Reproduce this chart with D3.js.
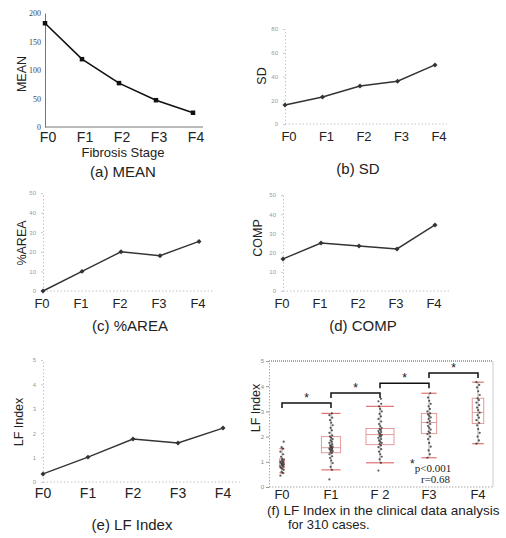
<!DOCTYPE html>
<html><head><meta charset="utf-8">
<script src="https://cdn.jsdelivr.net/npm/d3@7"></script>
<style>html,body{margin:0;padding:0;background:#fff;overflow:hidden}</style>
</head><body>
<script>
// ---------- data ----------
const stages = ["F0","F1","F2","F3","F4"];
const meanValues = [182,119,77,47,25];
const sdValues = [16,22.7,32,36,49.7];
const areaValues = [0,10,20,18,25.3];
const compValues = [16.7,25,23.4,21.9,34.4];
const lfValues = [0.33,1.02,1.76,1.6,2.21];

const ticksMean = [0,50,100,150,200];
const ticksSD = [0,20,40,60,80];
const ticksArea = [0,10,20,30,40,50];
const ticksComp = [0,10,20,30,40,50];
const ticksLF = [0,1,2,3,4,5];

// panel (f) clinical box plot
const fStages = ["F0","F1","F 2","F3","F4"];
const fCounts = [20,75,110,60,45];
const fWhiskLow = [0.56,0.68,0.96,1.16,1.72];
const fQ1 = [0.76,1.36,1.68,2.12,2.52];
const fMedian = [0.96,1.56,2.08,2.56,2.96];
const fQ3 = [1.12,2.0,2.32,2.92,3.52];
const fWhiskHigh = [1.52,2.92,3.2,3.72,4.16];
const fPointsF0 = [0.45,0.55,0.6,0.68,0.72,0.76,0.8,0.82,0.85,0.88,0.9,0.92,0.95,0.97,1.0,1.02,1.05,1.08,1.12,1.2,1.3,1.4,1.52,1.58,1.8];
const fPointsF1 = [0.3,0.68,0.8,0.95,1.05,1.15,1.22,1.3,1.35,1.38,1.42,1.45,1.48,1.5,1.52,1.55,1.57,1.6,1.62,1.65,1.7,1.75,1.8,1.85,1.9,1.95,2.0,2.05,2.15,2.25,2.35,2.45,2.55,2.65,2.75,2.85,2.92];
const fPointsF2 = [0.65,0.96,1.1,1.2,1.3,1.4,1.5,1.58,1.65,1.7,1.75,1.8,1.85,1.9,1.95,2.0,2.03,2.06,2.1,2.14,2.18,2.22,2.26,2.3,2.35,2.42,2.5,2.6,2.7,2.8,2.9,3.0,3.1,3.2,3.3,3.4,3.5];
const fPointsF3 = [1.16,1.3,1.45,1.6,1.75,1.9,2.0,2.1,2.15,2.2,2.28,2.35,2.42,2.5,2.56,2.62,2.7,2.76,2.82,2.88,2.92,3.0,3.1,3.2,3.3,3.42,3.55,3.72];
const fPointsF4 = [1.72,1.85,2.0,2.15,2.3,2.45,2.55,2.65,2.75,2.85,2.95,3.05,3.15,3.25,3.35,3.45,3.52,3.65,3.8,3.95,4.05,4.16];
const fPoints = [fPointsF0,fPointsF1,fPointsF2,fPointsF3,fPointsF4];
const fBracketLevels = [3.33,3.73,4.12,4.52];

// ---------- drawing ----------
const SANS = "Liberation Sans, Arial, sans-serif";
const SERIF = "Liberation Serif, Times New Roman, serif";
const fmt = d3.format("d");
const svg = d3.select("body").append("svg").attr("width",506).attr("height",538);
svg.append("rect").attr("width",506).attr("height",538).attr("fill","#fff");

function linePanel(o){
  const x = d3.scalePoint().domain(stages).range([o.x0,o.x1]);
  const y = d3.scaleLinear().domain([0,o.ymax]).range([o.y0,o.y1]);
  const g = svg.append("g");
  const ya = g.append("g").attr("transform",`translate(${o.x0},0)`)
    .call(d3.axisLeft(y).tickValues(o.ticks).tickFormat(fmt).tickSize(o.solid?0:2).tickSizeOuter(0).tickPadding(o.solid?4:5));
  ya.select(".domain").attr("stroke",o.solid?"#777":"#c4c4c4").attr("stroke-dasharray",o.solid?null:"1.5,2");
  ya.selectAll(".tick line").attr("stroke","#ccc");
  ya.selectAll(".tick text").attr("font-family",o.solid?SERIF:SANS).attr("font-size",o.solid?8:6).attr("fill",o.solid?"#444":"#999");
  g.append("line").attr("x1",o.x0).attr("x2",o.xEnd).attr("y1",o.y0).attr("y2",o.y0)
    .attr("stroke",o.solid?"#777":"#c4c4c4").attr("stroke-dasharray",o.solid?null:"1.5,2");
  g.selectAll(".xl").data(stages).join("text")
    .attr("x",d=>x(d)+o.dx).attr("y",o.labY).attr("text-anchor","middle")
    .attr("font-family",SANS).attr("font-size",o.fs).attr("fill","#222").text(d=>d);
  g.append("path").datum(o.values)
    .attr("d",d3.line().x((d,i)=>x(stages[i])).y(d=>y(d)))
    .attr("fill","none").attr("stroke",o.solid?"#111":"#333").attr("stroke-width",o.solid?1.6:1.4);
  const ms = o.solid?4.5:3.5;
  g.selectAll(".m").data(o.values).join("rect")
    .attr("x",(d,i)=>x(stages[i])-ms/2).attr("y",d=>y(d)-ms/2)
    .attr("width",ms).attr("height",ms).attr("fill",o.solid?"#111":"#333")
    .attr("transform",(d,i)=>o.solid?null:`rotate(45,${x(stages[i])},${y(d)})`);
  g.append("text").attr("transform",`translate(${o.ylx},${o.yly}) rotate(-90)`)
    .attr("text-anchor","middle").attr("dominant-baseline","central")
    .attr("font-family",SANS).attr("font-size",12.5).attr("fill","#222").text(o.ylabel);
  if(o.xlabel){
    g.append("text").attr("x",o.xlx).attr("y",o.xly).attr("text-anchor","middle")
      .attr("font-family",SANS).attr("font-size",13).attr("fill","#222").text(o.xlabel);
  }
  g.append("text").attr("x",o.capX).attr("y",o.capY).attr("text-anchor","middle")
    .attr("font-family",SANS).attr("font-size",15).attr("fill","#222").text(o.caption);
}

linePanel({values:meanValues,ymax:200,ticks:ticksMean,solid:true,x0:45,x1:193,xEnd:203,y0:127,y1:13,
  dx:3,labY:142,fs:14,ylabel:"MEAN",ylx:22,yly:74,xlabel:"Fibrosis Stage",xlx:123,xly:157,
  caption:"(a) MEAN",capX:123,capY:177});
linePanel({values:sdValues,ymax:80,ticks:ticksSD,solid:false,x0:285,x1:435,xEnd:447,y0:124,y1:29,
  dx:4,labY:141,fs:13,ylabel:"SD",ylx:262,yly:76,caption:"(b) SD",capX:358,capY:174});
linePanel({values:areaValues,ymax:50,ticks:ticksArea,solid:false,x0:43,x1:199,xEnd:213,y0:291,y1:193,
  dx:-1,labY:308,fs:13,ylabel:"%AREA",ylx:22,yly:243,caption:"(c) %AREA",capX:130,capY:331});
linePanel({values:compValues,ymax:50,ticks:ticksComp,solid:false,x0:283,x1:435,xEnd:449,y0:291,y1:195,
  dx:-1,labY:308,fs:13,ylabel:"COMP",ylx:258,yly:238,caption:"(d) COMP",capX:363,capY:331});
linePanel({values:lfValues,ymax:5,ticks:ticksLF,solid:false,x0:43,x1:223,xEnd:240,y0:482,y1:360,
  dx:0,labY:498,fs:14,ylabel:"LF Index",ylx:19,yly:422,caption:"(e) LF Index",capX:132,capY:530});

// ---------- panel (f) ----------
(function(){
  const L=269,R=493,T=361,B=487;
  const x = d3.scalePoint().domain(fStages).range([282,478]);
  const y = d3.scaleLinear().domain([0,5]).range([B,T]);
  const g = svg.append("g");
  g.append("line").attr("x1",L).attr("x2",R).attr("y1",T).attr("y2",T).attr("stroke","#555").attr("stroke-dasharray","1,1");
  g.append("line").attr("x1",R).attr("x2",R).attr("y1",T).attr("y2",B).attr("stroke","#ccc");
  g.append("line").attr("x1",L).attr("x2",R).attr("y1",B).attr("y2",B).attr("stroke","#aaa").attr("stroke-dasharray","1.5,1.5");
  const ya = g.append("g").attr("transform",`translate(${L},0)`)
    .call(d3.axisLeft(y).tickValues(ticksLF).tickFormat(fmt).tickSize(3).tickSizeOuter(0).tickPadding(2));
  ya.select(".domain").attr("stroke","#aaa").attr("stroke-dasharray","1.5,1.5");
  ya.selectAll(".tick line").attr("stroke","#999");
  ya.selectAll(".tick text").attr("font-family",SANS).attr("font-size",6).attr("fill","#888");
  g.append("text").attr("transform",`translate(256,408) rotate(-90)`)
    .attr("text-anchor","middle").attr("dominant-baseline","central")
    .attr("font-family",SANS).attr("font-size",12.5).attr("fill","#222").text("LF Index");
  g.selectAll(".xl").data(fStages).join("text")
    .attr("x",d=>x(d)).attr("y",499).attr("text-anchor","middle")
    .attr("font-family",SANS).attr("font-size",13).attr("fill","#222").text(d=>d);
  const jit = [-1.6,0.9,-0.4,1.7,0.2,-1.0,1.2];
  fStages.forEach((s,i)=>{
    const cx = x(s), w = fCounts[i]*0.255;
    g.append("line").attr("x1",cx).attr("x2",cx).attr("y1",y(fWhiskLow[i])).attr("y2",y(fWhiskHigh[i]))
      .attr("stroke","#999").attr("stroke-width",0.8);
    g.append("rect").attr("x",cx-w/2).attr("y",y(fQ3[i])).attr("width",w).attr("height",y(fQ1[i])-y(fQ3[i]))
      .attr("fill","none").attr("stroke","#e49a9a").attr("stroke-width",1);
    g.append("line").attr("x1",cx-w/2).attr("x2",cx+w/2).attr("y1",y(fMedian[i])).attr("y2",y(fMedian[i]))
      .attr("stroke","#e49a9a").attr("stroke-width",1);
    [fWhiskLow[i],fWhiskHigh[i]].forEach(v=>{
      g.append("line").attr("x1",cx-w/2).attr("x2",cx+w/2).attr("y1",y(v)).attr("y2",y(v))
        .attr("stroke","#e07070").attr("stroke-width",1.2);
    });
    g.selectAll(null).data(fPoints[i]).join("circle")
      .attr("cx",(d,j)=>cx+jit[j%jit.length]).attr("cy",d=>y(d)).attr("r",1.1)
      .attr("fill","#333").attr("opacity",0.8);
  });
  fBracketLevels.forEach((lv,i)=>{
    const x1 = x(fStages[i]), x2 = x(fStages[i+1]), yb = y(lv);
    g.append("path").attr("d",`M${x1},${yb+5}V${yb}H${x2}V${yb+5}`)
      .attr("fill","none").attr("stroke","#111").attr("stroke-width",1.5);
    g.append("text").attr("x",(x1+x2)/2).attr("y",yb-1).attr("text-anchor","middle")
      .attr("font-family",SANS).attr("font-size",12).attr("fill","#111").text("*");
  });
  const ann = g.append("text").attr("x",410).attr("y",472).attr("font-family",SERIF).attr("font-size",11).attr("fill","#222");
  ann.append("tspan").attr("font-family",SANS).attr("font-size",12).attr("dy",-4).text("*");
  ann.append("tspan").attr("dy",4).text("p<0.001");
  g.append("text").attr("x",421).attr("y",483).attr("font-family",SERIF).attr("font-size",11).attr("fill","#222").text("r=0.68");
  g.append("text").attr("x",267).attr("y",515).attr("font-family",SANS).attr("font-size",13.5).attr("fill","#222")
    .text("(f) LF Index in the clinical data analysis");
  g.append("text").attr("x",288).attr("y",529).attr("font-family",SANS).attr("font-size",13).attr("fill","#222")
    .text("for 310 cases.");
})();
</script>
</body></html>
